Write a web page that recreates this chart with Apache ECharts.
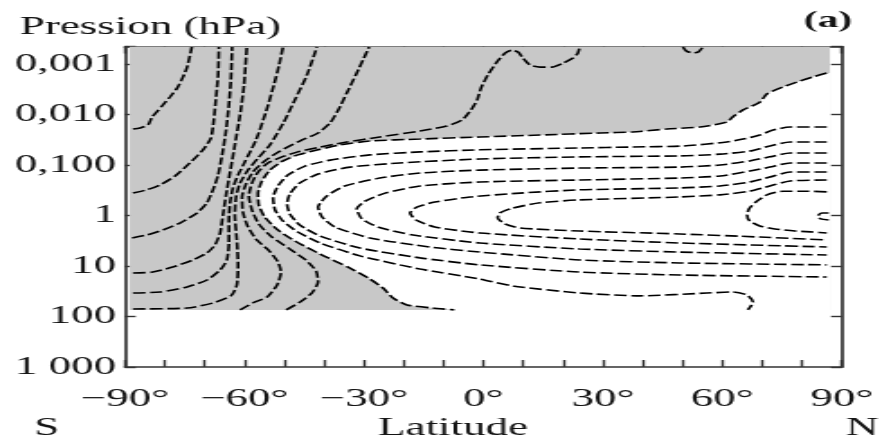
<!DOCTYPE html>
<html lang="fr">
<head>
<meta charset="utf-8">
<title>Vent zonal moyen – Pression / Latitude</title>
<script src="https://cdn.jsdelivr.net/npm/echarts@6.0.0/dist/echarts.min.js"></script>
<style>
  html, body { margin: 0; padding: 0; background: #fff; overflow: hidden; }
  #frame { width: 884px; height: 441px; overflow: hidden; }
  /* the figure is laid out 491 px wide and stretched horizontally to 884 px */
  #chart { width: 491px; height: 441px; transform: scaleX(1.8); transform-origin: 0 0; }
</style>
</head>
<body>
<div id="frame"><div id="chart"></div></div>
<script>
// axis ticks and their printed text
const latTicks = [-90, -60, -30, 0, 30, 60, 90];
const latTickText = ['\u221290\u00b0', '\u221260\u00b0', '\u221230\u00b0', '0\u00b0', '30\u00b0', '60\u00b0', '90\u00b0'];
const presTickExp = [-3, -2, -1, 0, 1, 2, 3];
const presTickText = ['0,001', '0,010', '0,100', '1', '10', '100', '1 000'];

// extent of the analysed field: latitude (deg) and pressure (hPa)
const domainLat = [-88.8, 87.0];
const domainPres = [0.00045, 74];

// isolines of zonal wind, points are [latitude deg, pressure hPa]
const u_m80 = [[-88.0,0.0194],[-86.2,0.0185],[-84.2,0.0161],[-83.2,0.0112],[-82.0,0.0089],[-80.5,0.0065],[-78.7,0.0045],[-76.9,0.0030],[-75.4,0.0018],[-74.4,0.00115],[-73.7,0.00069],[-73.2,0.00046]];
const u_m70 = [[-88.0,0.36],[-84.5,0.31],[-81.2,0.249],[-77.4,0.165],[-73.7,0.091],[-70.4,0.050],[-68.4,0.0292],[-67.7,0.0129],[-67.2,0.0052],[-66.6,0.00165],[-66.4,0.00046]];
const u_m60 = [[-88.2,2.79],[-84.5,2.43],[-80.5,1.94],[-76.2,1.41],[-71.9,0.89],[-69.4,0.56],[-67.9,0.31],[-66.6,0.158],[-65.6,0.063],[-64.6,0.0203],[-63.9,0.0065],[-63.4,0.00207],[-63.1,0.00046]];
const u_m50 = [[-88.0,13.8],[-83.0,13.2],[-78.0,10.5],[-72.9,7.6],[-69.4,5.5],[-67.4,3.84],[-66.1,2.22],[-65.4,0.98],[-64.6,0.39],[-63.6,0.138],[-62.4,0.040],[-61.1,0.0102],[-60.1,0.0026],[-59.4,0.00046]];
const u_m40 = [[-88.0,34.3],[-81.2,32.7],[-74.4,26],[-69.4,18.9],[-66.1,12],[-64.4,7.6],[-63.9,3.5],[-63.9,1.23],[-63.6,0.56],[-62.9,0.285],[-61.6,0.158],[-59.9,0.087],[-57.1,0.032],[-54.6,0.0089],[-52.6,0.0026],[-51.3,0.00105],[-50.3,0.00046]];
const u_m30 = [[-88.0,71],[-74.4,68],[-67.9,54],[-63.4,39],[-61.9,23.8],[-61.6,9.5],[-61.9,3.05],[-62.4,0.98],[-62.1,0.43],[-61.1,0.227],[-59.1,0.126],[-56.6,0.073],[-53.6,0.040],[-50.1,0.0141],[-47.1,0.0047],[-44.3,0.00165],[-41.8,0.00046]];
const u_m20 = [[-61.1,74],[-57.9,54],[-54.3,41],[-51.8,23.8],[-50.8,13.2],[-51.6,8.3],[-53.8,5.0],[-56.9,3.05],[-59.1,1.69],[-60.4,0.85],[-60.6,0.43],[-59.6,0.238],[-57.9,0.138],[-54.9,0.083],[-51.1,0.053],[-46.1,0.0335],[-41.5,0.0232],[-38.5,0.0147],[-36.3,0.0078],[-34.3,0.00375],[-31.8,0.00151],[-30.0,0.00076],[-28.7,0.00046]];
const u_m10 = [[-49.5,74],[-46.1,52],[-43.1,34.3],[-41.5,20.7],[-42.0,12.6],[-44.6,7.6],[-48.6,4.6],[-53.1,2.67],[-56.4,1.47],[-58.1,0.78],[-58.9,0.41],[-58.1,0.227],[-56.6,0.138],[-54.1,0.091],[-50.6,0.069],[-46.6,0.055],[-41.0,0.044],[-34.3,0.0351],[-26.0,0.0279],[-15.9,0.0212],[-9.2,0.0169],[-5.4,0.0129],[-3.1,0.0081],[-1.6,0.0052],[-0.6,0.0030],[1.1,0.00165],[3.4,0.00091],[5.4,0.00061],[7.2,0.00053],[8.7,0.00058],[9.9,0.00076],[11.7,0.00105],[14.2,0.00115],[17.2,0.00115],[20.0,0.00096],[22.5,0.00076],[23.7,0.00061],[24.2,0.00046]];
const u_m10b = [[50.1,0.00046],[50.9,0.00055],[52.4,0.00060],[53.9,0.00058],[55.1,0.00046]];
const u_0 = [[86.2,0.00151],[82.7,0.0018],[79.5,0.00217],[75.2,0.00285],[71.2,0.0039],[69.4,0.0057],[65.2,0.0081],[62.6,0.0112],[61.1,0.0141],[54.4,0.0177],[46.1,0.0194],[37.5,0.0222],[29.3,0.0232],[14.2,0.0255],[-0.9,0.0279],[-15.9,0.0306],[-28.5,0.0335],[-36.0,0.040],[-41.5,0.050],[-46.6,0.063],[-50.3,0.083],[-53.6,0.126],[-55.6,0.207],[-56.6,0.36],[-56.4,0.62],[-54.9,1.07],[-51.6,1.94],[-47.3,3.2],[-41.0,5.8],[-33.5,11],[-28.5,18.1],[-25.2,27.3],[-22.7,43],[-19.2,59],[-12.7,68],[-7.3,74]];
const u_10 = [[86.2,0.0177],[77.0,0.0177],[72.7,0.0203],[69.4,0.0255],[65.2,0.0306],[61.1,0.0351],[50.1,0.042],[37.5,0.044],[24.2,0.046],[-0.9,0.050],[-15.9,0.055],[-28.5,0.063],[-38.5,0.080],[-44.8,0.105],[-49.1,0.158],[-51.6,0.26],[-52.8,0.45],[-52.3,0.78],[-50.3,1.29],[-46.6,2.12],[-41.0,3.5],[-31.0,6.3],[-15.9,11.5],[-0.9,18.1],[7.4,24.9],[24.2,34.3],[39.3,39],[56.1,34.3],[62.6,32.7],[66.2,37.5],[67.7,52],[66.4,74]];
const u_20 = [[86.2,0.0351],[77.0,0.0351],[71.9,0.042],[66.9,0.053],[59.4,0.061],[49.3,0.066],[24.2,0.069],[-0.9,0.076],[-21.0,0.091],[-33.5,0.110],[-41.5,0.151],[-46.1,0.227],[-48.6,0.375],[-49.3,0.59],[-48.6,0.93],[-46.1,1.54],[-41.0,2.55],[-31.0,4.4],[-15.9,6.9],[-0.9,9.5],[24.2,13.2],[49.3,15.1],[86.2,16.5]];
const u_30 = [[86.2,0.058],[77.0,0.058],[71.9,0.069],[66.9,0.083],[59.4,0.100],[49.3,0.110],[24.2,0.115],[-0.9,0.126],[-15.9,0.144],[-26.0,0.181],[-34.8,0.26],[-39.3,0.41],[-41.5,0.68],[-40.5,1.07],[-37.3,1.69],[-28.5,2.79],[-13.4,4.2],[-0.9,5.3],[24.2,7.6],[49.3,8.7],[86.2,9.5]];
const u_40 = [[86.2,0.091],[77.0,0.091],[71.9,0.110],[66.9,0.132],[59.4,0.165],[49.3,0.181],[24.2,0.198],[-0.9,0.217],[-15.9,0.26],[-24.7,0.36],[-29.7,0.52],[-31.8,0.74],[-30.5,1.17],[-26.5,1.69],[-17.7,2.43],[-0.9,3.5],[24.2,4.6],[49.3,5.3],[86.2,6.05]];
const u_50 = [[86.2,0.138],[77.0,0.138],[71.9,0.173],[66.9,0.217],[59.4,0.26],[49.3,0.285],[24.2,0.31],[9.2,0.36],[-3.4,0.43],[-12.2,0.54],[-16.7,0.68],[-18.4,0.89],[-16.9,1.23],[-12.2,1.69],[-0.9,2.22],[24.2,2.92],[49.3,3.5],[86.2,4.2]];
const u_60 = [[86.2,0.198],[77.0,0.207],[71.9,0.26],[66.9,0.33],[59.4,0.39],[49.3,0.43],[24.2,0.49],[14.2,0.56],[7.4,0.71],[4.1,0.89],[3.6,1.12],[5.4,1.47],[9.2,1.77],[24.2,2.03],[49.3,2.32],[69.4,2.67],[86.2,3.05]];
const u_70 = [[86.2,0.34],[81.2,0.33],[75.2,0.33],[71.2,0.39],[68.4,0.54],[66.7,0.74],[66.2,0.98],[66.9,1.29],[69.4,1.61],[73.2,1.85],[78.2,2.03],[82.7,2.12],[86.2,2.22]];
const u_80 = [[86.7,0.89],[85.0,0.89],[84.0,1.02],[84.7,1.17],[86.7,1.23]];

const isolines = [u_m80, u_m70, u_m60, u_m50, u_m40, u_m30, u_m20, u_m10, u_m10b,
                  u_0, u_10, u_20, u_30, u_40, u_50, u_60, u_70, u_80];

// positive (westerly) area: inside the zero line, closed along the bottom and right edges
const westerlyArea = [[domainLat[1], u_0[0][1]]].concat(u_0, [[domainLat[1], domainPres[1]]]);

const FONT = '"Liberation Serif", "Times New Roman", serif';
const INK = '#141414';
const AXIS = '#333333';

function latLabel(v) {
  const i = latTicks.indexOf(Math.round(v));
  return (i < 0 || Math.abs(v - Math.round(v)) > 1e-6) ? '' : latTickText[i];
}
function presLabel(v) {
  const e = Math.log10(v);
  const r = Math.round(e);
  if (Math.abs(e - r) > 1e-6) return '';
  const i = presTickExp.indexOf(r);
  return i < 0 ? '' : presTickText[i];
}

const frameLine = { show: true, onZero: false, lineStyle: { color: AXIS, width: 1.7 } };

const shading = {
  type: 'custom',
  data: [[0, 1]],
  silent: true,
  z: 1,
  clip: true,
  renderItem(params, api) {
    const a = api.coord([domainLat[0], domainPres[0]]);
    const b = api.coord([domainLat[1], domainPres[1]]);
    return {
      type: 'group',
      children: [
        { type: 'rect',
          shape: { x: Math.min(a[0], b[0]), y: Math.min(a[1], b[1]),
                   width: Math.abs(b[0] - a[0]), height: Math.abs(b[1] - a[1]) },
          style: { fill: '#c8c8c8' } },
        { type: 'polygon',
          shape: { points: westerlyArea.map(p => api.coord(p)) },
          style: { fill: '#ffffff' } }
      ]
    };
  }
};

const lines = isolines.map(pts => ({
  type: 'line',
  data: pts,
  symbol: 'none',
  showSymbol: false,
  smooth: 0.2,
  silent: true,
  clip: true,
  z: 3,
  lineStyle: { color: '#000000', width: 1.6, type: [7, 2.5] }
}));

const chart = echarts.init(document.getElementById('chart'), null, { renderer: 'canvas' });
chart.setOption({
  animation: false,
  backgroundColor: '#ffffff',
  textStyle: { fontFamily: FONT },
  grid: { left: 69.4, right: 23.3, top: 46.5, bottom: 74, containLabel: false },
  xAxis: [
    { type: 'value', position: 'bottom', min: -90, max: 90, interval: 10,
      axisLine: frameLine,
      axisTick: { show: true, inside: true, length: 7, lineStyle: { color: AXIS, width: 1.4 } },
      axisLabel: { formatter: latLabel, fontFamily: FONT, fontSize: 25, color: INK, margin: 20 },
      splitLine: { show: false } },
    { type: 'value', position: 'top', min: -90, max: 90, interval: 10,
      axisLine: frameLine,
      axisTick: { show: true, inside: true, length: 7, lineStyle: { color: AXIS, width: 1.4 } },
      axisLabel: { show: false },
      splitLine: { show: false } }
  ],
  yAxis: [
    { type: 'log', logBase: 10, position: 'left', min: domainPres[0], max: 1000, inverse: true,
      axisLine: frameLine,
      axisTick: { show: true, inside: true, length: 6, lineStyle: { color: AXIS, width: 1.4 } },
      axisLabel: { formatter: presLabel, fontFamily: FONT, fontSize: 25, color: INK, margin: 5 },
      minorTick: { show: false },
      splitLine: { show: false } },
    { type: 'log', logBase: 10, position: 'right', min: domainPres[0], max: 1000, inverse: true,
      axisLine: frameLine,
      axisTick: { show: true, inside: true, length: 6, lineStyle: { color: AXIS, width: 1.4 } },
      axisLabel: { show: false },
      splitLine: { show: false } }
  ],
  graphic: [
    { type: 'text', x: 11, y: 27, silent: true,
      style: { text: 'Pression (hPa)', font: '25px ' + FONT, fill: INK,
               align: 'left', verticalAlign: 'middle', textAlign: 'left', textVerticalAlign: 'middle' } },
    { type: 'text', x: 460, y: 21, silent: true,
      style: { text: '(a)', font: 'bold 23px ' + FONT, fill: INK,
               align: 'center', verticalAlign: 'middle', textAlign: 'center', textVerticalAlign: 'middle' } },
    { type: 'text', x: 26, y: 428, silent: true,
      style: { text: 'S', font: '25px ' + FONT, fill: INK,
               align: 'center', verticalAlign: 'middle', textAlign: 'center', textVerticalAlign: 'middle' } },
    { type: 'text', x: 251.7, y: 428, silent: true,
      style: { text: 'Latitude', font: '25px ' + FONT, fill: INK,
               align: 'center', verticalAlign: 'middle', textAlign: 'center', textVerticalAlign: 'middle' } },
    { type: 'text', x: 479, y: 428, silent: true,
      style: { text: 'N', font: '25px ' + FONT, fill: INK,
               align: 'center', verticalAlign: 'middle', textAlign: 'center', textVerticalAlign: 'middle' } }
  ],
  series: [shading].concat(lines)
});
</script>
</body>
</html>
